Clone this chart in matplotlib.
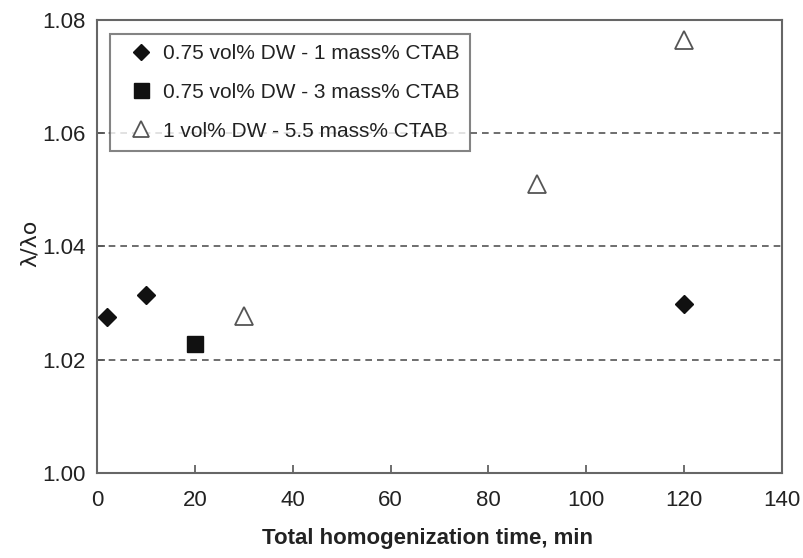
import matplotlib
matplotlib.use("Agg")
import matplotlib.pyplot as plt

# Data
x_dw1 = [2, 10, 120]
y_dw1 = [1.0276, 1.0314, 1.0298]
x_dw3 = [20]
y_dw3 = [1.0228]
x_dw55 = [30, 90, 120]
y_dw55 = [1.0277, 1.0511, 1.0765]

labels = ["0.75 vol% DW - 1 mass% CTAB",
          "0.75 vol% DW - 3 mass% CTAB",
          "1 vol% DW - 5.5 mass% CTAB"]
xticks = [0, 20, 40, 60, 80, 100, 120, 140]
yticks = [1.00, 1.02, 1.04, 1.06, 1.08]
grid_levels = [1.02, 1.04, 1.06]

font = "Liberation Sans"

fig = plt.figure(figsize=(8.04, 5.58), dpi=100)
ax = fig.add_axes([0.1206, 0.1523, 0.852, 0.812])

for g in grid_levels:
    ax.axhline(g, color="#555555", lw=1.2, ls=(0, (4, 3)), zorder=1)

ax.plot(x_dw1, y_dw1, ls="none", marker="D", ms=9, color="#111111", label=labels[0], zorder=3)
ax.plot(x_dw3, y_dw3, ls="none", marker="s", ms=12, color="#111111", label=labels[1], zorder=3)
ax.plot(x_dw55, y_dw55, ls="none", marker="^", ms=13, mfc="white", mec="#555555", mew=1.3,
        label=labels[2], zorder=3)

ax.set_xlim(0, 140)
ax.set_ylim(1.00, 1.08)
ax.set_xticks(xticks)
ax.set_yticks(yticks)
ax.set_xticklabels([str(v) for v in xticks], fontfamily=font, fontsize=16)
ax.set_yticklabels([f"{v:.2f}" for v in yticks], fontfamily=font, fontsize=16)
ax.tick_params(direction="in", length=6, width=1.2, color="#555555", pad=8, labelcolor="#222222")
ax.tick_params(axis="x", pad=12)
for s in ax.spines.values():
    s.set_color("#666666")
    s.set_linewidth(1.5)

ax.set_xlabel("Total homogenization time, min", fontfamily=font, fontweight="bold",
              fontsize=16, color="#222222")
ax.xaxis.set_label_coords(0.482, -0.122)
ax.set_ylabel("λ/λo", fontfamily="DejaVu Sans", fontsize=16, color="#222222")
ax.yaxis.set_label_coords(-0.084, 0.508)

leg = ax.legend(loc="upper left", bbox_to_anchor=(0.019, 0.97), frameon=True, fancybox=False,
                edgecolor="#666666", prop={"family": font, "size": 15},
                handlelength=2.0, handletextpad=0.05, borderpad=0.5, labelspacing=0.95,
                borderaxespad=0, markerscale=0.9)
leg.get_frame().set_linewidth(1.5)
for t in leg.get_texts():
    t.set_color("#222222")

fig.savefig("out.png", dpi=100)
